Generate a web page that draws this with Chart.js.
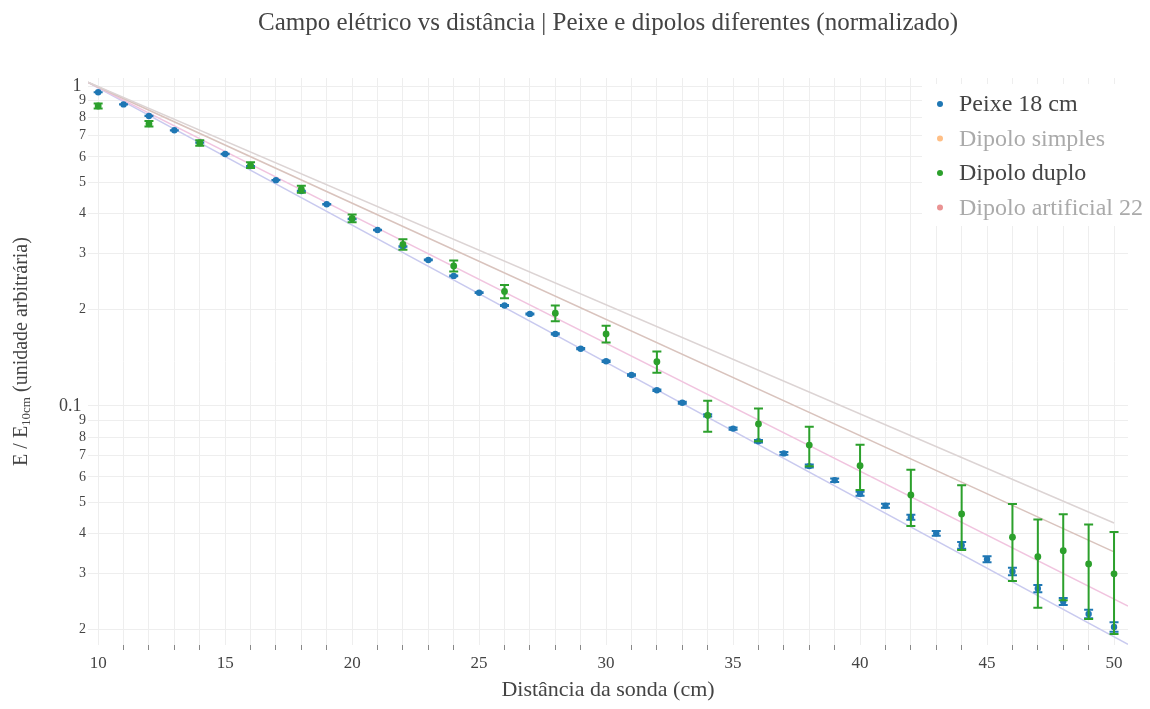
<!DOCTYPE html>
<html>
<head>
<meta charset="utf-8">
<script src="https://cdn.jsdelivr.net/npm/chart.js@4.4.0/dist/chart.umd.min.js"></script>
<style>
  html, body { margin: 0; padding: 0; background: #fff; }
</style>
</head>
<body>
<canvas id="campoChart" width="1150" height="709"></canvas>
<script>
// distâncias da sonda (cm)
const distancias = [10, 11, 12, 13, 14, 15, 16, 17, 18, 19, 20, 21, 22, 23, 24, 25, 26, 27, 28, 29,
                    30, 31, 32, 33, 34, 35, 36, 37, 38, 39, 40, 41, 42, 43, 44, 45, 46, 47, 48, 49, 50];

// Peixe 18 cm, normalizado pelo valor em 10 cm
const peixe18 = [0.956, 0.876, 0.806, 0.727, 0.665, 0.613, 0.562, 0.508, 0.470, 0.427,
                 0.384, 0.355, 0.315, 0.286, 0.255, 0.226, 0.206, 0.194, 0.168, 0.151,
                 0.138, 0.125, 0.112, 0.1024, 0.0935, 0.0850, 0.0776, 0.0711, 0.0649, 0.0586,
                 0.0532, 0.0488, 0.0449, 0.0400, 0.0367, 0.0332, 0.0304, 0.0269, 0.0245, 0.0224, 0.0204];
const peixe18Erro = [0.0007, 0.0007, 0.0007, 0.0007, 0.0007, 0.0007, 0.0007, 0.0007, 0.0007, 0.0007,
                     0.0007, 0.0007, 0.0007, 0.0007, 0.0007, 0.0007, 0.0007, 0.0007, 0.0007, 0.0007,
                     0.0007, 0.0007, 0.0007, 0.0007, 0.0007, 0.0007, 0.0007, 0.0007, 0.0007, 0.0007,
                     0.0008, 0.0007, 0.0008, 0.0007, 0.0009, 0.0007, 0.0008, 0.0007, 0.0006, 0.0007, 0.0007];

// Dipolo duplo
const duploX = [10, 12, 14, 16, 18, 20, 22, 24, 26, 28, 30, 32, 34, 36, 38, 40, 42, 44, 46, 47, 48, 49, 50];
const dipoloDuplo = [0.866, 0.762, 0.664, 0.566, 0.476, 0.386, 0.320, 0.274, 0.228, 0.195, 0.168, 0.1375,
                     0.0935, 0.0879, 0.0755, 0.0651, 0.0527, 0.0460, 0.0389, 0.0338, 0.0353, 0.0321, 0.0299];
const dipoloDuploErro = [0.016, 0.015, 0.013, 0.012, 0.012, 0.011, 0.012, 0.011, 0.011, 0.011, 0.010, 0.0105,
                         0.0104, 0.0103, 0.0107, 0.0105, 0.0105, 0.0105, 0.0105, 0.0104, 0.0106, 0.0105, 0.0105];

// curvas de ajuste (retas no gráfico semi-log)
const ajusteXInicio = 9.6;
const ajusteYInicio = 1.027;
const ajusteXFim = [50, 50, 50.55, 50.55];
const ajusteYFim = [0.0431, 0.0350, 0.0237, 0.0180];

// eixos
const xTicks = [10, 11, 12, 13, 14, 15, 16, 17, 18, 19, 20, 21, 22, 23, 24, 25, 26, 27, 28, 29,
                30, 31, 32, 33, 34, 35, 36, 37, 38, 39, 40, 41, 42, 43, 44, 45, 46, 47, 48, 49, 50];
const yTicks = [0.02, 0.03, 0.04, 0.05, 0.06, 0.07, 0.08, 0.09, 0.1,
                0.2, 0.3, 0.4, 0.5, 0.6, 0.7, 0.8, 0.9, 1];
const yTickLabels = ['2', '3', '4', '5', '6', '7', '8', '9', '0.1',
                     '2', '3', '4', '5', '6', '7', '8', '9', '1'];
const yMajor = ['0.1', '1'];

const SERIF = '"Liberation Serif", "DejaVu Serif", "Times New Roman", serif';
const TEXTO = '#444';

const pontos = (xs, ys) => xs.map((x, i) => ({ x: x, y: ys[i] }));

const coresAjuste = ['#dcd4d4', '#d9c3bd', '#f1c4df', '#c9caef'];
const ajustes = ajusteXFim.map((xf, i) => ({
    label: 'ajuste ' + (i + 1),
    data: [{ x: ajusteXInicio, y: ajusteYInicio }, { x: xf, y: ajusteYFim[i] }],
    showLine: true,
    borderColor: coresAjuste[i],
    borderWidth: 1.5,
    pointRadius: 0,
    order: 10
}));

const datasets = [
    {
        label: 'Peixe 18 cm',
        data: pontos(distancias, peixe18),
        errorY: peixe18Erro,
        backgroundColor: '#1f77b4',
        borderWidth: 0,
        pointRadius: 3.2,
        legenda: true,
        order: 3
    },
    {
        label: 'Dipolo simples',
        data: [],
        backgroundColor: '#ff7f0e',
        hidden: true,
        legenda: true
    },
    {
        label: 'Dipolo duplo',
        data: pontos(duploX, dipoloDuplo),
        errorY: dipoloDuploErro,
        backgroundColor: '#2ca02c',
        borderWidth: 0,
        pointRadius: 3.4,
        legenda: true,
        order: 2
    },
    {
        label: 'Dipolo artificial 22',
        data: [],
        backgroundColor: '#d62728',
        hidden: true,
        legenda: true
    },
    ...ajustes
];

// barras de erro verticais, desenhadas logo antes dos marcadores de cada série
const barrasErro = {
    id: 'barrasErro',
    beforeDatasetDraw(chart, args) {
        const ds = chart.data.datasets[args.index];
        if (!ds.errorY) return;
        const xs = chart.scales.x, ys = chart.scales.y;
        const c = chart.ctx;
        c.save();
        c.strokeStyle = ds.backgroundColor;
        c.lineWidth = 2;
        ds.data.forEach((p, i) => {
            const e = ds.errorY[i];
            const px = xs.getPixelForValue(p.x);
            const top = ys.getPixelForValue(p.y + e);
            const bot = ys.getPixelForValue(p.y - e);
            c.beginPath();
            c.moveTo(px, top); c.lineTo(px, bot);
            c.moveTo(px - 4.5, top); c.lineTo(px + 4.5, top);
            c.moveTo(px - 4.5, bot); c.lineTo(px + 4.5, bot);
            c.stroke();
        });
        c.restore();
    }
};

// título, título do eixo y (com subscrito) e legenda
const decoracao = {
    id: 'decoracao',
    afterDraw(chart) {
        const c = chart.ctx;
        const area = chart.chartArea;
        c.save();

        c.fillStyle = TEXTO;
        c.font = '25px ' + SERIF;
        c.textAlign = 'center';
        c.textBaseline = 'middle';
        c.fillText('Campo elétrico vs distância | Peixe e dipolos diferentes (normalizado)',
                   (area.left + area.right) / 2, 23);

        // eixo y: E / E_10cm (unidade arbitrária)
        const partes = [
            { t: 'E / E', f: '20px ' + SERIF, dy: 0 },
            { t: '10cm', f: '13px ' + SERIF, dy: 5 },
            { t: ' (unidade arbitrária)', f: '20px ' + SERIF, dy: 0 }
        ];
        let total = 0;
        partes.forEach(p => { c.font = p.f; p.w = c.measureText(p.t).width; total += p.w; });
        c.translate(22, (area.top + area.bottom) / 2 - 10);
        c.rotate(-Math.PI / 2);
        c.textAlign = 'left';
        let px = -total / 2;
        partes.forEach(p => {
            c.font = p.f;
            c.fillText(p.t, px, p.dy);
            px += p.w;
        });
        c.setTransform(1, 0, 0, 1, 0, 0);

        // legenda
        c.fillStyle = '#fff';
        c.fillRect(922, 84, 228, 142);
        c.font = '24px ' + SERIF;
        c.textAlign = 'left';
        c.textBaseline = 'middle';
        let row = 0;
        chart.data.datasets.forEach((ds, i) => {
            if (!ds.legenda) return;
            const y = 104 + row * 34.5;
            const visivel = chart.isDatasetVisible(i);
            c.globalAlpha = visivel ? 1 : 0.5;
            c.fillStyle = ds.backgroundColor;
            c.beginPath();
            c.arc(940, y, 3, 0, Math.PI * 2);
            c.fill();
            c.globalAlpha = 1;
            c.fillStyle = visivel ? TEXTO : '#aaaaaa';
            c.fillText(ds.label, 959, y + 1);
            row++;
        });
        c.restore();
    }
};

new Chart(document.getElementById('campoChart'), {
    type: 'scatter',
    data: { datasets: datasets },
    options: {
        responsive: false,
        animation: false,
        layout: { padding: { top: 78, right: 22, left: 0, bottom: 0 } },
        plugins: {
            legend: { display: false },
            title: { display: false },
            tooltip: { enabled: false }
        },
        scales: {
            x: {
                type: 'linear',
                min: 9.6,
                max: 50.55,
                afterBuildTicks: s => { s.ticks = xTicks.map(v => ({ value: v })); },
                afterFit: s => { s.height = 64; },
                border: { display: false },
                grid: {
                    color: '#eeeeee',
                    tickLength: 5,
                    tickColor: ctx => (ctx.tick && ctx.tick.value % 5 === 0) ? 'rgba(0,0,0,0)' : '#888'
                },
                ticks: {
                    autoSkip: false,
                    maxRotation: 0,
                    padding: 3,
                    color: TEXTO,
                    font: { family: SERIF, size: 17 },
                    callback: v => (v % 5 === 0 ? String(v) : '')
                },
                title: {
                    display: true,
                    text: 'Distância da sonda (cm)',
                    color: TEXTO,
                    font: { family: SERIF, size: 22 },
                    padding: { top: 0, bottom: 6 }
                }
            },
            y: {
                type: 'logarithmic',
                min: 0.01791,
                max: 1.0593,
                afterBuildTicks: s => { s.ticks = yTicks.map(v => ({ value: v })); },
                afterFit: s => { s.width = 88; },
                border: { display: false },
                grid: { color: '#eeeeee', drawTicks: false },
                ticks: {
                    autoSkip: false,
                    padding: 2,
                    color: TEXTO,
                    font: ctx => ({
                        family: SERIF,
                        size: yMajor.includes(yTickLabels[ctx.index]) ? 18 : 14
                    }),
                    // rótulos principais com espaço extra, deslocados para a esquerda
                    callback: (v, i) => yTickLabels[i] + (yMajor.includes(yTickLabels[i]) ? ' ' : '')
                }
            }
        }
    },
    plugins: [barrasErro, decoracao]
});
</script>
</body>
</html>
